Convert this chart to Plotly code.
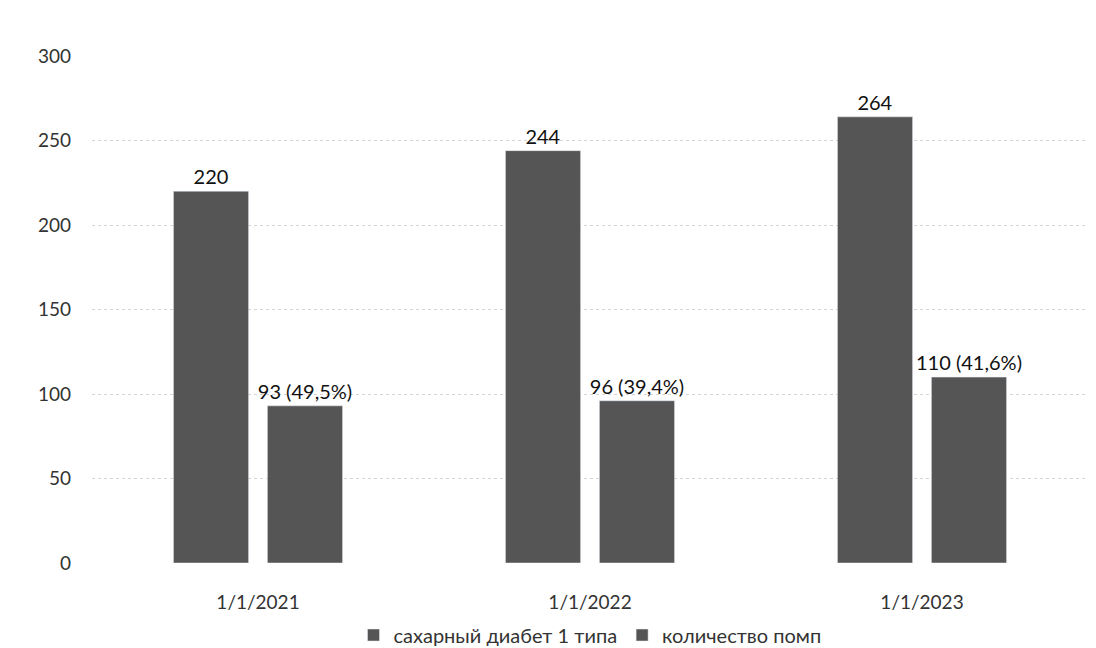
import plotly.graph_objects as go

# Data
dates = ["1/1/2021", "1/1/2022", "1/1/2023"]
diabetes_t1 = [220, 244, 264]
pumps = [93, 96, 110]
pump_share = ["49,5%", "39,4%", "41,6%"]

series_names = ["сахарный диабет 1 типа", "количество помп"]
bar_color = "#555555"
font_family = "Lato, 'Open Sans', sans-serif"

pump_labels = [f"{v} ({s})" for v, s in zip(pumps, pump_share)]

fig = go.Figure()
fig.add_trace(go.Bar(
    x=dates, y=diabetes_t1, name=series_names[0],
    marker_color=bar_color,
    text=[str(v) for v in diabetes_t1], textposition="outside",
    constraintext="none",
    textfont=dict(size=20, color="#111111", family=font_family),
    cliponaxis=False,
))
fig.add_trace(go.Bar(
    x=dates, y=pumps, name=series_names[1],
    marker_color=bar_color,
    text=pump_labels, textposition="outside",
    constraintext="none",
    textfont=dict(size=20, color="#111111", family=font_family),
    cliponaxis=False,
))

fig.update_layout(
    width=1096, height=648,
    margin=dict(l=92, r=8, t=56, b=85, autoexpand=False),
    paper_bgcolor="white", plot_bgcolor="white",
    barmode="group", bargap=0.434, bargroupgap=0.2,
    font=dict(family=font_family, color="#333333", size=18),
    showlegend=True,
    legend=dict(orientation="h", x=0.5, xanchor="center",
                yref="container", y=0.02, yanchor="middle",
                font=dict(size=20, color="#333333"), itemwidth=30,
                traceorder="normal"),
)
fig.update_xaxes(type="category", showgrid=False, showline=False, ticks="",
                 ticklabelstandoff=26,
                 tickfont=dict(size=19, color="#333333"))
fig.update_yaxes(range=[0, 300], dtick=50, showgrid=True, gridcolor="#d4d4d4",
                 griddash="dot", gridwidth=1, zeroline=False, showline=False,
                 ticks="", ticklabelstandoff=20,
                 tickfont=dict(size=19, color="#333333"))

fig.write_html("out.html")
